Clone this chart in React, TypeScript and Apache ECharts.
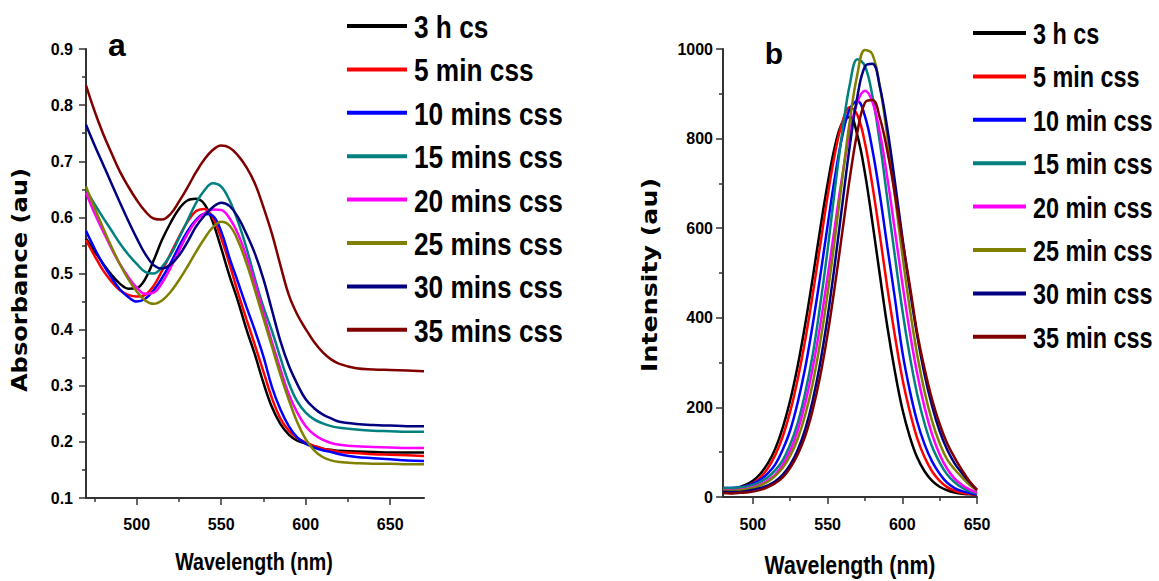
import React, { useEffect, useRef } from "react";
import * as echarts from "echarts";

// ---------- data: panel a (absorbance) ----------
const WL_A = [470, 475, 480, 485, 490, 495, 500, 505, 510, 515, 520, 525, 530, 535, 540, 545, 550, 555, 560, 565, 570, 575, 580, 585, 590, 595, 600, 605, 610, 615, 620, 630, 640, 650, 660, 670];
const A_3H = [0.562, 0.540, 0.518, 0.498, 0.482, 0.473, 0.474, 0.490, 0.523, 0.560, 0.590, 0.615, 0.630, 0.633, 0.624, 0.592, 0.545, 0.495, 0.450, 0.400, 0.355, 0.305, 0.262, 0.232, 0.213, 0.202, 0.197, 0.192, 0.188, 0.186, 0.184, 0.183, 0.182, 0.181, 0.181, 0.181];
const A_5 = [0.560, 0.532, 0.506, 0.486, 0.470, 0.462, 0.459, 0.462, 0.478, 0.505, 0.535, 0.565, 0.592, 0.611, 0.615, 0.600, 0.563, 0.516, 0.465, 0.418, 0.372, 0.325, 0.278, 0.242, 0.220, 0.207, 0.199, 0.193, 0.188, 0.185, 0.182, 0.180, 0.178, 0.177, 0.176, 0.175];
const A_10 = [0.576, 0.545, 0.517, 0.493, 0.472, 0.458, 0.450, 0.455, 0.470, 0.492, 0.518, 0.548, 0.575, 0.595, 0.606, 0.603, 0.575, 0.527, 0.484, 0.440, 0.398, 0.352, 0.298, 0.258, 0.228, 0.208, 0.197, 0.190, 0.185, 0.182, 0.178, 0.173, 0.171, 0.169, 0.167, 0.166];
const A_15 = [0.650, 0.624, 0.600, 0.577, 0.554, 0.534, 0.517, 0.503, 0.500, 0.512, 0.533, 0.563, 0.594, 0.625, 0.648, 0.661, 0.655, 0.630, 0.592, 0.545, 0.490, 0.440, 0.398, 0.350, 0.305, 0.272, 0.252, 0.240, 0.233, 0.228, 0.225, 0.222, 0.220, 0.219, 0.218, 0.218];
const A_20 = [0.644, 0.608, 0.576, 0.545, 0.517, 0.494, 0.475, 0.464, 0.466, 0.483, 0.510, 0.540, 0.570, 0.593, 0.607, 0.614, 0.613, 0.598, 0.570, 0.530, 0.482, 0.430, 0.378, 0.330, 0.285, 0.252, 0.228, 0.213, 0.204, 0.198, 0.195, 0.192, 0.191, 0.190, 0.189, 0.189];
const A_25 = [0.655, 0.617, 0.582, 0.548, 0.517, 0.490, 0.468, 0.452, 0.446, 0.452, 0.467, 0.488, 0.512, 0.538, 0.562, 0.582, 0.592, 0.585, 0.558, 0.518, 0.470, 0.420, 0.370, 0.320, 0.275, 0.235, 0.205, 0.185, 0.173, 0.167, 0.164, 0.162, 0.161, 0.161, 0.160, 0.160];
const A_30 = [0.765, 0.729, 0.695, 0.661, 0.627, 0.594, 0.563, 0.535, 0.515, 0.509, 0.516, 0.532, 0.556, 0.583, 0.603, 0.618, 0.626, 0.620, 0.600, 0.570, 0.535, 0.490, 0.435, 0.380, 0.336, 0.303, 0.276, 0.260, 0.249, 0.242, 0.236, 0.232, 0.230, 0.229, 0.228, 0.228];
const A_35 = [0.835, 0.790, 0.750, 0.715, 0.682, 0.655, 0.631, 0.611, 0.598, 0.596, 0.606, 0.628, 0.653, 0.680, 0.703, 0.720, 0.728, 0.724, 0.710, 0.689, 0.660, 0.618, 0.571, 0.515, 0.462, 0.427, 0.401, 0.378, 0.360, 0.347, 0.339, 0.331, 0.329, 0.328, 0.327, 0.326];
const NAMES_A = ["3 h cs", "5 min css", "10 mins css", "15 mins css", "20 mins css", "25 mins css", "30 mins css", "35 mins css"];
const X_TICKS_A = [500, 550, 600, 650];
const X_MINOR_A = [475, 525, 575, 625];

// ---------- data: panel b (intensity) ----------
const WL_B = [480, 485, 490, 495, 500, 505, 510, 515, 520, 525, 530, 535, 540, 545, 550, 555, 560, 565, 570, 575, 580, 585, 590, 595, 600, 605, 610, 615, 620, 625, 630, 635, 640, 645, 650];
const I_3H = [18, 19, 21, 27, 36, 52, 75, 108, 155, 216, 293, 385, 488, 597, 699, 784, 837, 848, 806, 723, 613, 495, 380, 281, 197, 135, 88, 57, 36, 23, 15, 10, 7, 6, 5];
const I_5 = [17, 18, 20, 24, 31, 44, 64, 94, 135, 191, 263, 350, 451, 561, 671, 768, 838, 870, 852, 790, 695, 584, 467, 361, 265, 191, 131, 88, 57, 36, 22, 14, 9, 7, 5];
const I_10 = [20, 20, 21, 24, 30, 39, 53, 73, 106, 149, 211, 288, 384, 491, 606, 716, 808, 867, 884, 850, 775, 674, 558, 445, 325, 238, 168, 117, 79, 52, 32, 20, 13, 9, 6];
const I_15 = [20, 20, 21, 23, 27, 34, 44, 60, 82, 117, 165, 232, 317, 427, 551, 690, 819, 923, 977, 962, 895, 791, 665, 539, 418, 315, 229, 163, 112, 77, 50, 33, 21, 13, 8];
const I_20 = [15, 15, 16, 18, 22, 28, 37, 50, 72, 103, 148, 209, 287, 382, 492, 607, 720, 816, 882, 907, 882, 813, 712, 596, 478, 369, 275, 199, 139, 95, 63, 41, 27, 17, 10];
const I_25 = [14, 14, 15, 17, 20, 26, 34, 47, 65, 92, 130, 183, 253, 344, 454, 580, 715, 843, 945, 998, 988, 916, 804, 674, 541, 421, 317, 234, 169, 120, 84, 62, 44, 27, 14];
const I_30 = [12, 11, 11, 13, 16, 20, 26, 35, 50, 72, 105, 151, 215, 298, 402, 524, 657, 787, 895, 961, 967, 915, 822, 705, 581, 464, 360, 272, 202, 147, 106, 75, 53, 33, 16];
const I_35 = [9, 8, 9, 10, 12, 16, 22, 31, 44, 65, 95, 136, 194, 269, 363, 474, 595, 715, 816, 880, 886, 846, 772, 677, 574, 473, 366, 285, 217, 163, 120, 88, 60, 35, 16];
const NAMES_B = ["3 h cs", "5 min css", "10 min css", "15 min css", "20 min css", "25 min css", "30 min css", "35 min css"];
const X_TICKS_B = [500, 550, 600, 650];
const X_MINOR_B = [525, 575, 625];

const COLORS = ["#000000", "#ff0000", "#0000ff", "#008080", "#ff00ff", "#808000", "#000080", "#800000"];

const ARIAL = "'Liberation Sans', Arial, Helvetica, sans-serif";
const WIDE = "'DejaVu Sans', Verdana, sans-serif";
const AXIS_COLOR = "#333333";

function zip(xs: number[], ys: number[]) {
  return xs.map((x, i) => [x, ys[i]]);
}

const tickFont = { color: "#000", fontSize: 16, fontWeight: "bold", fontFamily: ARIAL };

function majorX(gridIndex: number, min: number, max: number, ticks: number[], margin: number) {
  return {
    type: "value",
    gridIndex,
    min,
    max,
    position: "bottom",
    axisLine: { show: true, onZero: false, lineStyle: { color: AXIS_COLOR, width: 2 } },
    axisTick: { show: true, length: 7, customValues: ticks, lineStyle: { color: AXIS_COLOR, width: 1.5 } },
    axisLabel: { show: true, customValues: ticks, margin, ...tickFont, formatter: (v: number) => String(v) },
    splitLine: { show: false },
  };
}

function minorX(gridIndex: number, min: number, max: number, ticks: number[]) {
  return {
    type: "value",
    gridIndex,
    min,
    max,
    position: "bottom",
    axisLine: { show: false },
    axisTick: { show: true, length: 4, customValues: ticks, lineStyle: { color: AXIS_COLOR, width: 1.5 } },
    axisLabel: { show: false },
    splitLine: { show: false },
  };
}

// legend drawn as graphic rows (line sample + condensed bold label)
function legendRows(
  names: string[],
  x1: number,
  x2: number,
  textX: number,
  y0: number,
  step: number,
  fontSize: number,
  scaleX: number
) {
  const out: any[] = [];
  names.forEach((name, i) => {
    const y = y0 + i * step;
    out.push({
      type: "line",
      shape: { x1, y1: y, x2, y2: y },
      style: { stroke: COLORS[i], lineWidth: 4 },
      silent: true,
    });
    out.push({
      type: "text",
      x: textX,
      y: y + 1,
      scaleX,
      style: {
        text: name,
        fontSize,
        fontWeight: "bold",
        fontFamily: ARIAL,
        fill: "#000",
        textAlign: "left",
        textVerticalAlign: "middle",
      },
      silent: true,
    });
  });
  return out;
}

export default function App() {
  const ref = useRef<HTMLDivElement>(null);

  useEffect(() => {
    if (!ref.current) return;
    const chart = echarts.init(ref.current, undefined, { renderer: "svg", width: 1159, height: 581 });

    const seriesA = [A_3H, A_5, A_10, A_15, A_20, A_25, A_30, A_35].map((ys, i) => ({
      type: "line",
      name: NAMES_A[i],
      xAxisIndex: 0,
      yAxisIndex: 0,
      data: zip(WL_A, ys),
      showSymbol: false,
      symbol: "none",
      smooth: 0.4,
      color: COLORS[i],
      lineStyle: { color: COLORS[i], width: 2.5 },
      z: 2 + i,
    }));

    const seriesB = [I_3H, I_5, I_10, I_15, I_20, I_25, I_30, I_35].map((ys, i) => ({
      type: "line",
      name: NAMES_B[i] + " ",
      xAxisIndex: 2,
      yAxisIndex: 1,
      data: zip(WL_B, ys),
      showSymbol: false,
      symbol: "none",
      smooth: 0.4,
      color: COLORS[i],
      lineStyle: { color: COLORS[i], width: 2.5 },
      z: 2 + i,
    }));

    const option: any = {
      animation: false,
      backgroundColor: "#ffffff",
      grid: [
        { left: 86, top: 49, width: 338, height: 449, containLabel: false },
        { left: 723, top: 49, width: 254, height: 448, containLabel: false },
      ],
      xAxis: [
        majorX(0, 470, 670, X_TICKS_A, 18),
        minorX(0, 470, 670, X_MINOR_A),
        majorX(1, 480, 650, X_TICKS_B, 19),
        minorX(1, 480, 650, X_MINOR_B),
      ],
      yAxis: [
        {
          type: "value",
          gridIndex: 0,
          min: 0.1,
          max: 0.9,
          interval: 0.1,
          axisLine: { show: true, lineStyle: { color: AXIS_COLOR, width: 2 } },
          axisTick: { show: true, length: 7, lineStyle: { color: AXIS_COLOR, width: 1.5 } },
          minorTick: { show: true, splitNumber: 2, length: 4, lineStyle: { color: AXIS_COLOR, width: 1.5 } },
          axisLabel: { margin: 13, ...tickFont, formatter: (v: number) => v.toFixed(1) },
          splitLine: { show: false },
          minorSplitLine: { show: false },
        },
        {
          type: "value",
          gridIndex: 1,
          min: 0,
          max: 1000,
          interval: 200,
          axisLine: { show: true, lineStyle: { color: AXIS_COLOR, width: 2 } },
          axisTick: { show: true, length: 7, lineStyle: { color: AXIS_COLOR, width: 1.5 } },
          minorTick: { show: true, splitNumber: 2, length: 4, lineStyle: { color: AXIS_COLOR, width: 1.5 } },
          axisLabel: { margin: 10, ...tickFont, formatter: (v: number) => String(Math.round(v)) },
          splitLine: { show: false },
          minorSplitLine: { show: false },
        },
      ],
      graphic: [
        ...legendRows(NAMES_A, 347, 407, 414, 26, 43.4, 32, 0.82),
        ...legendRows(NAMES_B, 973, 1026, 1033, 33, 43.4, 30, 0.78),
        {
          type: "text",
          x: 117,
          y: 45,
          style: { text: "a", fontSize: 32, fontWeight: "bold", fontFamily: ARIAL, fill: "#000", textAlign: "center", textVerticalAlign: "middle" },
        },
        {
          type: "text",
          x: 774,
          y: 53,
          style: { text: "b", fontSize: 30, fontWeight: "bold", fontFamily: ARIAL, fill: "#000", textAlign: "center", textVerticalAlign: "middle" },
        },
        {
          type: "text",
          x: 20,
          y: 280,
          rotation: Math.PI / 2,
          scaleX: 1.15,
          style: { text: "Absorbance (au)", fontSize: 21, fontWeight: "bold", fontFamily: WIDE, fill: "#000", textAlign: "center", textVerticalAlign: "middle" },
        },
        {
          type: "text",
          x: 650,
          y: 275,
          rotation: Math.PI / 2,
          scaleX: 1.15,
          style: { text: "Intensity (au)", fontSize: 22, fontWeight: "bold", fontFamily: WIDE, fill: "#000", textAlign: "center", textVerticalAlign: "middle" },
        },
        {
          type: "text",
          x: 254,
          y: 562,
          scaleX: 0.82,
          style: { text: "Wavelength (nm)", fontSize: 24, fontWeight: "bold", fontFamily: ARIAL, fill: "#000", textAlign: "center", textVerticalAlign: "middle" },
        },
        {
          type: "text",
          x: 850,
          y: 565,
          scaleX: 0.82,
          style: { text: "Wavelength (nm)", fontSize: 26, fontWeight: "bold", fontFamily: ARIAL, fill: "#000", textAlign: "center", textVerticalAlign: "middle" },
        },
      ],
      series: [...seriesA, ...seriesB],
    };

    chart.setOption(option);
    return () => chart.dispose();
  }, []);

  return (
    <div
      ref={ref}
      style={{ position: "fixed", left: 0, top: 0, width: 1159, height: 581, background: "#ffffff" }}
    />
  );
}
